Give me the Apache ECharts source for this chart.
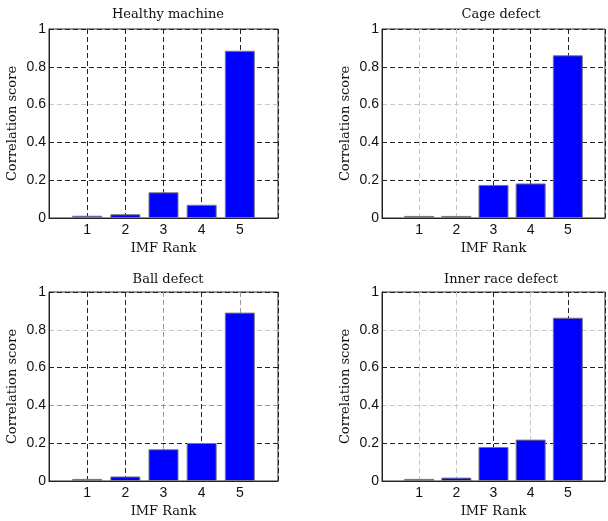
<!DOCTYPE html>
<html>
<head>
<meta charset="utf-8">
<script src="https://cdn.jsdelivr.net/npm/echarts@6/dist/echarts.min.js"></script>
<style>
html,body{margin:0;padding:0;background:#fff;}
#chart{width:608px;height:521px;}
</style>
</head>
<body>
<div id="chart"></div>
<script>
// ---- data ----
const ranks = [1, 2, 3, 4, 5];
const titles = ['Healthy machine', 'Cage defect', 'Ball defect', 'Inner race defect'];
const healthy = [0.012, 0.02, 0.136, 0.07, 0.885];
const cage = [0.011, 0.011, 0.175, 0.183, 0.861];
const ball = [0.011, 0.024, 0.168, 0.201, 0.891];
const inner = [0.011, 0.018, 0.18, 0.219, 0.864];
const yTicks = ['0', '0.2', '0.4', '0.6', '0.8', '1'];
const xName = 'IMF Rank';
const yName = 'Correlation score';

const seriesValues = [healthy, cage, ball, inner];

// ---- layout / style ----
const D = '#222', L = '#c8c8c8', M = '#9a9a9a';
const grids = [
  {left: 49, top: 29, width: 229, height: 189},
  {left: 382, top: 29, width: 228, height: 189},
  {left: 49, top: 292, width: 229, height: 189},
  {left: 382, top: 292, width: 228, height: 189}
];
const titleOffsets = [26, 26, 24, 24];
const vColors = [
  [D, D, D, D, D, D, D],
  [D, L, L, D, D, D, D],
  [D, D, D, M, D, M, D],
  [D, L, L, D, L, D, D]
];
const hColors = [
  [D, D, D, L, D, D],
  [D, D, D, L, D, D],
  [D, D, M, D, L, D],
  [D, D, L, D, L, D]
];
const serif = 'DejaVu Serif';
const sans = 'Liberation Sans';

const option = {
  animation: false,
  backgroundColor: '#fff',
  title: grids.map((g, i) => ({
    text: titles[i],
    left: g.left + 114,
    top: g.top - titleOffsets[i],
    textAlign: 'center',
    textStyle: {fontFamily: serif, fontSize: 13, fontWeight: 'normal', color: '#111'}
  })),
  grid: grids.map(g => Object.assign({show: true, borderColor: '#333', borderWidth: 1, backgroundColor: 'transparent'}, g)),
  xAxis: grids.map((g, i) => ({
    gridIndex: i,
    type: 'value',
    min: 0, max: 6, interval: 1,
    name: xName,
    nameLocation: 'middle',
    nameGap: 24,
    nameTextStyle: {fontFamily: serif, fontSize: 13, color: '#111'},
    axisLine: {show: true, lineStyle: {color: '#222', width: 1}},
    axisTick: {show: false},
    axisLabel: {
      margin: 5,
      fontFamily: sans, fontSize: 14, color: '#111',
      formatter: v => (ranks.indexOf(v) >= 0 ? String(v) : '')
    },
    splitLine: {show: true, lineStyle: {color: vColors[i], type: [5, 3], width: 1}}
  })),
  yAxis: grids.map((g, i) => ({
    gridIndex: i,
    type: 'value',
    min: 0, max: 1, interval: 0.2,
    name: yName,
    nameLocation: 'middle',
    nameGap: 30,
    nameTextStyle: {fontFamily: serif, fontSize: 13, color: '#111'},
    axisLine: {show: true, lineStyle: {color: '#222', width: 1}},
    axisTick: {show: false},
    axisLabel: {
      margin: 3,
      fontFamily: sans, fontSize: 14, color: '#111',
      formatter: v => yTicks[Math.round(v / 0.2)]
    },
    splitLine: {show: true, lineStyle: {color: hColors[i], type: [5, 3], width: 1}}
  })),
  series: seriesValues.map((vals, i) => ({
    type: 'bar',
    xAxisIndex: i,
    yAxisIndex: i,
    barWidth: 30,
    data: ranks.map((r, k) => [r, vals[k]]),
    itemStyle: {color: '#0000ff', borderColor: '#7a7a7a', borderWidth: 1}
  }))
};

const chart = echarts.init(document.getElementById('chart'), null, {renderer: 'canvas'});
chart.setOption(option);
</script>
</body>
</html>
